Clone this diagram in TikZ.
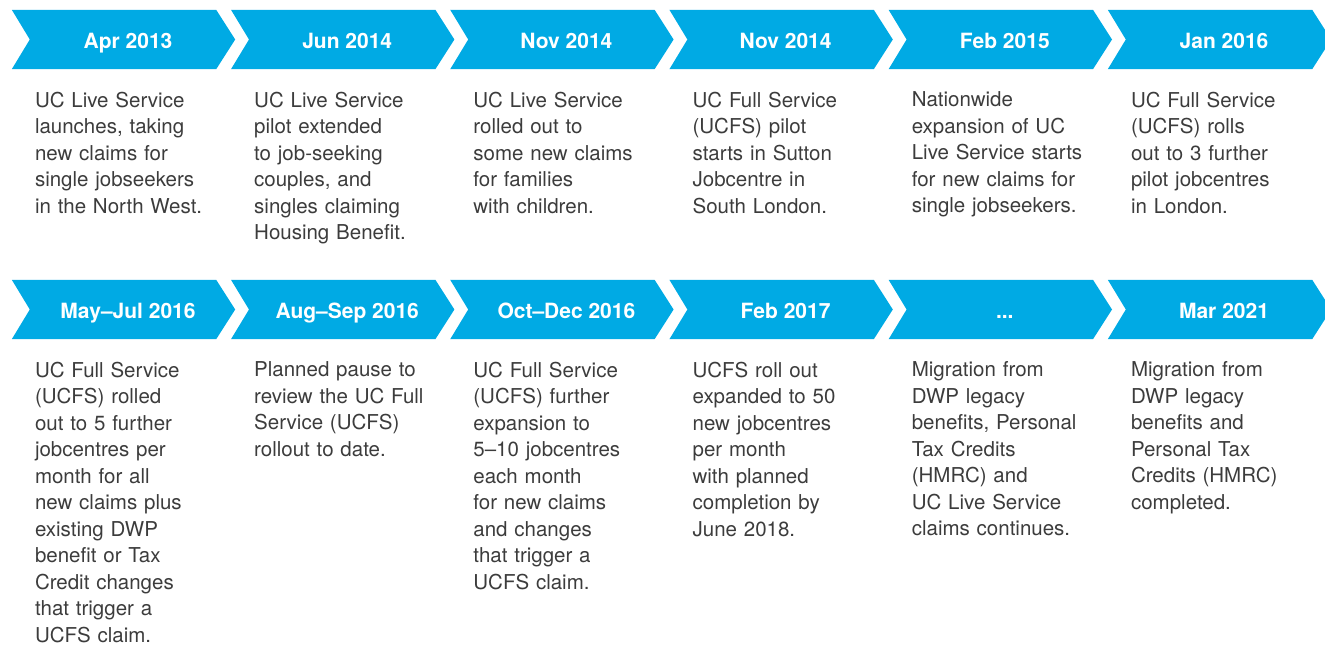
\documentclass[tikz,border=0pt]{standalone}
\usepackage{fontspec}
\setmainfont{TeX Gyre Heros}
\usepackage{tikz}
\usetikzlibrary{positioning, backgrounds}
\definecolor{ucblue}{RGB}{0,170,228}
\definecolor{ucgrey}{RGB}{60,60,60}

\begin{document}
\begin{tikzpicture}[
    x=1pt, y=-1pt,
    node distance=0pt and 42.8pt,
    chev/.style={minimum width=176pt, minimum height=59pt, inner sep=0pt, text height=17.8pt, text depth=0pt, text=white, font=\fontsize{21}{24}\selectfont\bfseries},
    desc/.style={text width=200pt, align=left, inner sep=0pt, text=ucgrey, font=\fontsize{20.5}{26.5}\selectfont}
]
    \useasboundingbox (0,0) rectangle (1325,645);

    % first row
    \node[chev] at (128,39.5) (c1) {Apr 2013};
    \node[chev, right=of c1] (c2) {Jun 2014};
    \node[chev, right=of c2] (c3) {Nov 2014};
    \node[chev, right=of c3] (c4) {Nov 2014};
    \node[chev, right=of c4] (c5) {Feb 2015};
    \node[chev, right=of c5] (c6) {Jan 2016};

    \node[desc, below=22.5pt of c1.south west, anchor=north west, xshift=-5pt] (d1) {UC Live Service\\launches, taking\\new claims for\\single jobseekers\\in the North West.};
    \node[desc, below=22.5pt of c2.south west, anchor=north west, xshift=-5pt] (d2) {UC Live Service\\pilot extended\\to job-seeking\\couples, and\\singles claiming\\Housing Benefit.};
    \node[desc, below=22.5pt of c3.south west, anchor=north west, xshift=-5pt] (d3) {UC Live Service\\rolled out to\\some new claims\\for families\\with children.};
    \node[desc, below=22.5pt of c4.south west, anchor=north west, xshift=-5pt] (d4) {UC Full Service\\(UCFS) pilot\\starts in Sutton\\Jobcentre in\\South London.};
    \node[desc, below=22.5pt of c5.south west, anchor=north west, xshift=-5pt] (d5) {Nationwide\\expansion of UC\\Live Service starts\\for new claims for\\single jobseekers.};
    \node[desc, below=22.5pt of c6.south west, anchor=north west, xshift=-5pt] (d6) {UC Full Service\\(UCFS) rolls\\out to 3 further\\pilot jobcentres\\in London.};

    % second row
    \node[chev] at (128,309.5) (c7) {May–Jul 2016};
    \node[chev, right=of c7] (c8) {Aug–Sep 2016};
    \node[chev, right=of c8] (c9) {Oct–Dec 2016};
    \node[chev, right=of c9] (c10) {Feb 2017};
    \node[chev, right=of c10] (c11) {...};
    \node[chev, right=of c11] (c12) {Mar 2021};

    \node[desc, below=22.5pt of c7.south west, anchor=north west, xshift=-5pt] (d7) {UC Full Service\\(UCFS) rolled\\out to 5 further\\jobcentres per\\month for all\\new claims plus\\existing DWP\\benefit or Tax\\Credit changes\\that trigger a\\UCFS claim.};
    \node[desc, below=22.5pt of c8.south west, anchor=north west, xshift=-5pt] (d8) {Planned pause to\\review the UC Full\\Service (UCFS)\\rollout to date.};
    \node[desc, below=22.5pt of c9.south west, anchor=north west, xshift=-5pt] (d9) {UC Full Service\\(UCFS) further\\expansion to\\5–10 jobcentres\\each month\\for new claims\\and changes\\that trigger a\\UCFS claim.};
    \node[desc, below=22.5pt of c10.south west, anchor=north west, xshift=-5pt] (d10) {UCFS roll out\\expanded to 50\\new jobcentres\\per month\\with planned\\completion by\\June 2018.};
    \node[desc, below=22.5pt of c11.south west, anchor=north west, xshift=-5pt] (d11) {Migration from\\DWP legacy\\benefits, Personal\\Tax Credits\\(HMRC) and\\UC Live Service\\claims continues.};
    \node[desc, below=22.5pt of c12.south west, anchor=north west, xshift=-5pt] (d12) {Migration from\\DWP legacy\\benefits and\\Personal Tax\\Credits (HMRC)\\completed.};

    % chevron arrows behind the dates
    \begin{scope}[on background layer]
        \foreach \c in {c1,c2,c3,c4,c5,c6,c7,c8,c9,c10,c11,c12}
            \fill[ucblue] ([xshift=-28pt]\c.north west) -- (\c.north east) -- ([xshift=19pt]\c.east)
                -- (\c.south east) -- ([xshift=-28pt]\c.south west) -- ([xshift=-10pt]\c.west) -- cycle;
    \end{scope}
\end{tikzpicture}
\end{document}
